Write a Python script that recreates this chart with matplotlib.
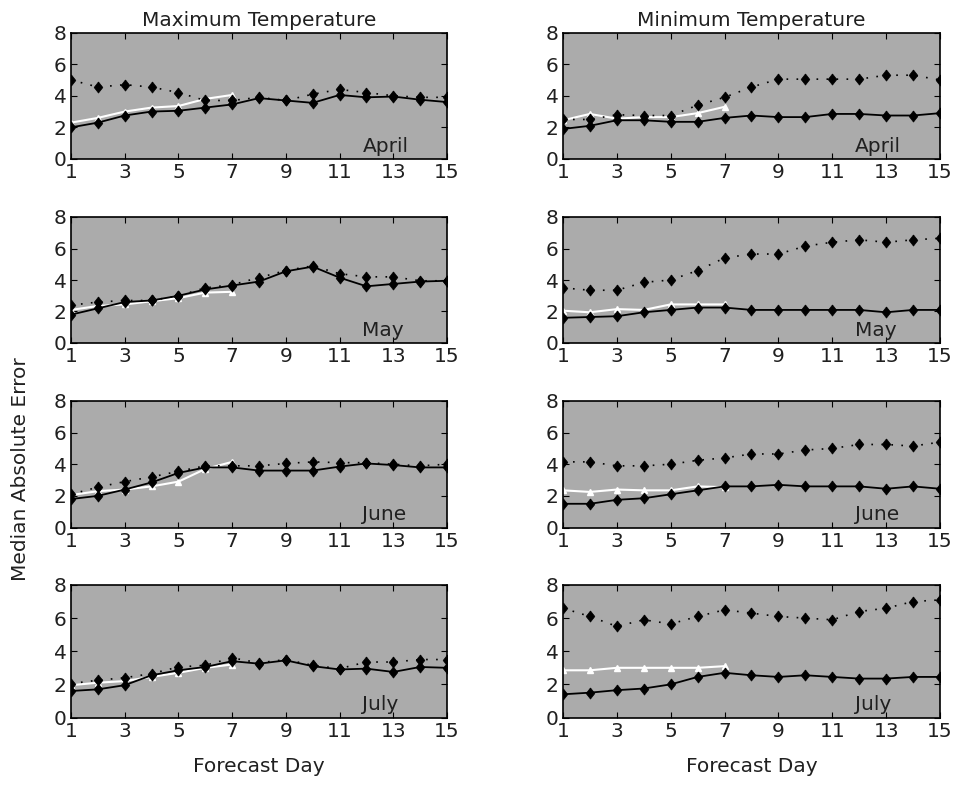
import matplotlib
matplotlib.use("Agg")
import matplotlib.pyplot as plt

plt.rcParams['font.family'] = ['DejaVu Sans']

days = list(range(1, 16))
white_days = list(range(1, 8))
months = ['April', 'May', 'June', 'July']
col_titles = ['Maximum Temperature', 'Minimum Temperature']

# maximum temperature: solid, dotted, white (days 1-7)
max_solid = {
    'April': [2.0, 2.3, 2.75, 3.0, 3.05, 3.25, 3.45, 3.85, 3.7, 3.55, 4.05, 3.9, 3.95, 3.75, 3.6],
    'May':   [1.8, 2.2, 2.6, 2.7, 3.0, 3.4, 3.65, 3.9, 4.55, 4.85, 4.15, 3.6, 3.75, 3.9, 3.95],
    'June':  [1.8, 2.0, 2.4, 2.85, 3.45, 3.8, 3.8, 3.6, 3.6, 3.6, 3.85, 4.05, 3.95, 3.8, 3.8],
    'July':  [1.6, 1.7, 1.95, 2.55, 2.85, 3.05, 3.4, 3.25, 3.45, 3.1, 2.9, 2.95, 2.75, 3.05, 3.0],
}
max_dotted = {
    'April': [5.0, 4.55, 4.7, 4.55, 4.2, 3.7, 3.7, 3.9, 3.7, 4.1, 4.4, 4.2, 4.0, 3.9, 3.9],
    'May':   [2.4, 2.6, 2.7, 2.7, 3.0, 3.5, 3.7, 4.15, 4.6, 4.9, 4.4, 4.2, 4.2, 3.95, 3.95],
    'June':  [2.1, 2.55, 2.9, 3.2, 3.55, 3.9, 3.9, 3.9, 4.05, 4.15, 4.1, 4.1, 4.0, 3.9, 4.0],
    'July':  [2.05, 2.25, 2.4, 2.65, 3.05, 3.15, 3.6, 3.3, 3.5, 3.15, 2.95, 3.35, 3.35, 3.5, 3.5],
}
max_white = {
    'April': [2.3, 2.6, 3.0, 3.25, 3.35, 3.8, 4.05],
    'May':   [2.1, 2.35, 2.45, 2.65, 2.85, 3.2, 3.25],
    'June':  [2.05, 2.3, 2.4, 2.6, 2.9, 3.7, 4.15],
    'July':  [1.95, 2.1, 2.2, 2.45, 2.7, 3.0, 3.2],
}

# minimum temperature
min_solid = {
    'April': [1.9, 2.1, 2.45, 2.45, 2.35, 2.35, 2.6, 2.75, 2.65, 2.65, 2.85, 2.85, 2.75, 2.75, 2.9],
    'May':   [1.6, 1.65, 1.7, 1.95, 2.1, 2.25, 2.25, 2.1, 2.1, 2.1, 2.1, 2.1, 1.95, 2.1, 2.1],
    'June':  [1.5, 1.5, 1.75, 1.85, 2.1, 2.35, 2.6, 2.6, 2.7, 2.6, 2.6, 2.6, 2.45, 2.6, 2.45],
    'July':  [1.4, 1.5, 1.65, 1.75, 2.0, 2.45, 2.7, 2.55, 2.45, 2.55, 2.45, 2.35, 2.35, 2.45, 2.45],
}
min_dotted = {
    'April': [2.5, 2.5, 2.8, 2.75, 2.75, 3.4, 3.9, 4.55, 5.05, 5.05, 5.05, 5.05, 5.3, 5.3, 5.0],
    'May':   [3.5, 3.35, 3.35, 3.85, 4.0, 4.6, 5.4, 5.65, 5.65, 6.15, 6.4, 6.55, 6.4, 6.55, 6.65],
    'June':  [4.15, 4.15, 3.9, 3.9, 4.0, 4.25, 4.4, 4.65, 4.65, 4.9, 5.0, 5.25, 5.25, 5.15, 5.4],
    'July':  [6.6, 6.1, 5.5, 5.9, 5.65, 6.1, 6.5, 6.3, 6.1, 6.0, 5.9, 6.4, 6.6, 7.0, 7.1],
}
min_white = {
    'April': [2.45, 2.85, 2.55, 2.65, 2.65, 2.9, 3.3],
    'May':   [2.05, 1.95, 2.15, 2.1, 2.45, 2.45, 2.45],
    'June':  [2.35, 2.25, 2.4, 2.35, 2.35, 2.6, 2.55],
    'July':  [2.85, 2.85, 3.0, 3.0, 3.0, 3.0, 3.1],
}

W, H = 958, 786
fig = plt.figure(figsize=(W / 100, H / 100), dpi=100)

# panel pixel extents (left, right) and (top, bottom)
col_px = [(71, 447), (563, 940)]
row_px = [(32.5, 159), (217, 343), (401, 527.5), (585, 717.5)]

data_cols = [(max_solid, max_dotted, max_white), (min_solid, min_dotted, min_white)]

# matlab-like diamond
diamond = [(0, 1), (0.78, 0), (0, -1), (-0.78, 0), (0, 1)]
fs = 14.5

for c in range(2):
    solid, dotted, white = data_cols[c]
    for r, m in enumerate(months):
        x0, x1 = col_px[c]
        t, b = row_px[r]
        ax = fig.add_axes([x0 / W, 1 - b / H, (x1 - x0) / W, (b - t) / H])
        ax.set_facecolor('#ababab')
        ax.plot(white_days, white[m], color='white', lw=1.5, marker='^',
                ms=4, mfc='white', mec='white', zorder=2)
        ax.plot(days, dotted[m], color='black', lw=1.2, ls=(0, (1, 5)),
                marker=diamond, ms=8, mfc='black', mec='black', mew=0.5, zorder=3)
        ax.plot(days, solid[m], color='black', lw=1.3, marker=diamond,
                ms=8, mfc='black', mec='black', mew=0.5, zorder=4)
        ax.set_xlim(1, 15)
        ax.set_ylim(0, 8)
        ax.set_xticks(range(1, 16, 2))
        ax.set_yticks(range(0, 9, 2))
        ax.tick_params(direction='in', top=True, right=True, length=4,
                       labelsize=fs, pad=3, labelcolor='#202020')
        for s in ax.spines.values():
            s.set_linewidth(1.2)
        ax.text(11.85, 0.2, m, fontsize=fs, ha='left', va='bottom', color='#202020')
        if r == 0:
            ax.set_title(col_titles[c], fontsize=fs, pad=5, color='#202020')
        if r == 3:
            ax.set_xlabel('Forecast Day', fontsize=fs, labelpad=12, color='#202020')

fig.text(0.021, 0.403, 'Median Absolute Error', rotation=90, fontsize=fs,
         ha='center', va='center', color='#202020')

fig.savefig('out.png', dpi=100)
